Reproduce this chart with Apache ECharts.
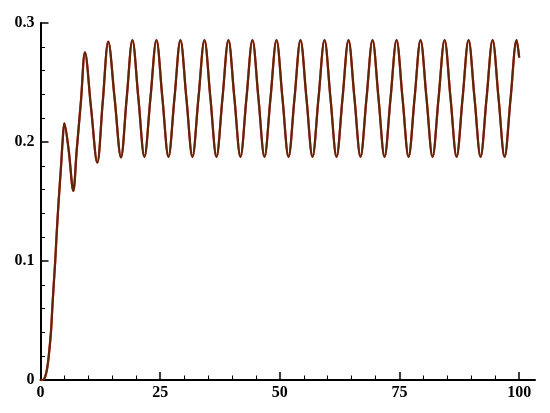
<!DOCTYPE html>
<html>
<head>
<meta charset="utf-8">
<script src="https://cdn.jsdelivr.net/npm/echarts@6/dist/echarts.min.js"></script>
<style>
html, body { margin: 0; padding: 0; background: #fff; }
#main { width: 550px; height: 413px; }
</style>
</head>
<body>
<div id="main"></div>
<script>
// values
var xMajorTicks = [0, 25, 50, 75, 100];
var xMinorTicks = [5, 10, 15, 20, 30, 35, 40, 45, 55, 60, 65, 70, 80, 85, 90, 95];

// start-up transient
var riseX = [0, 0.6, 1.0, 1.4, 1.71, 2.19, 2.46, 2.76, 3.09, 3.38, 3.80, 4.28, 4.64, 4.97, 5.89, 6.85, 7.56, 8.46, 9.29, 10.55, 11.86, 13.0, 14.16, 15.5, 16.81, 18.0];
var riseY = [0, 0.0003, 0.003, 0.01, 0.0196, 0.0406, 0.060, 0.080, 0.101, 0.123, 0.151, 0.179, 0.2017, 0.2157, 0.193, 0.159, 0.193, 0.235, 0.2754, 0.229, 0.1826, 0.2335, 0.2843, 0.236, 0.1871, 0.2365];

// steady oscillation: peaks, falling crossings, troughs, rising crossings
var peakX = [19.20, 24.22, 29.23, 34.25, 39.26, 44.28, 49.30, 54.31, 59.33, 64.34, 69.36, 74.38, 79.39, 84.41, 89.42, 94.44, 99.46];
var fallX = [20.45, 25.47, 30.48, 35.50, 40.51, 45.53, 50.55, 55.56, 60.58, 65.59, 70.61, 75.63, 80.64, 85.66, 90.67, 95.69];
var troughX = [21.71, 26.73, 31.74, 36.76, 41.77, 46.79, 51.81, 56.82, 61.84, 66.85, 71.87, 76.89, 81.90, 86.92, 91.93, 96.95];
var riseMidX = [22.96, 27.98, 32.99, 38.01, 43.02, 48.04, 53.06, 58.07, 63.09, 68.10, 73.12, 78.14, 83.15, 88.17, 93.18, 98.20];
var peakY = 0.2857;
var midY = 0.2366;
var troughY = 0.1875;
var endPoint = [100, 0.271];

var data = [];
for (var i = 0; i < riseX.length; i++) {
    data.push([riseX[i], riseY[i]]);
}
for (var i = 0; i < peakX.length; i++) {
    data.push([peakX[i], peakY]);
    if (i < fallX.length) {
        data.push([fallX[i], midY]);
        data.push([troughX[i], troughY]);
        data.push([riseMidX[i], midY]);
    }
}
data.push(endPoint);

var labelFont = {
    color: '#000',
    fontFamily: 'Liberation Serif',
    fontWeight: 'bold',
    fontSize: 16
};

var chart = echarts.init(document.getElementById('main'), null, {renderer: 'canvas'});
var option = {
    animation: false,
    grid: {left: 40.5, right: 15, top: 23, bottom: 33, containLabel: false},
    xAxis: [{
        type: 'value',
        min: 0,
        max: 103.3,
        interval: 25,
        splitLine: {show: false},
        axisLine: {show: true, onZero: false, lineStyle: {color: '#000', width: 2}},
        axisTick: {show: true, inside: true, length: 8, customValues: xMajorTicks, lineStyle: {color: '#000', width: 1.5}},
        axisLabel: Object.assign({margin: 5, customValues: xMajorTicks}, labelFont)
    }, {
        type: 'value',
        min: 0,
        max: 103.3,
        position: 'bottom',
        splitLine: {show: false},
        axisLine: {show: false},
        axisTick: {show: true, inside: true, length: 4.5, customValues: xMinorTicks, lineStyle: {color: '#000', width: 1}},
        axisLabel: {show: false}
    }],
    yAxis: {
        type: 'value',
        min: 0,
        max: 0.3,
        interval: 0.1,
        splitLine: {show: false},
        axisLine: {show: true, lineStyle: {color: '#000', width: 2}},
        axisTick: {show: true, inside: true, length: 8, lineStyle: {color: '#000', width: 1.5}},
        minorTick: {show: true, splitNumber: 5, length: 4.5, lineStyle: {color: '#000', width: 1}},
        axisLabel: Object.assign({margin: 6}, labelFont)
    },
    series: [{
        name: 'red',
        type: 'line',
        data: data,
        smooth: 0.35,
        showSymbol: false,
        lineStyle: {color: '#d81010', width: 2.2}
    }, {
        name: 'dark',
        type: 'line',
        data: data,
        smooth: 0.35,
        showSymbol: false,
        lineStyle: {color: '#4a2a08', width: 2.2, opacity: 0.85}
    }]
};
chart.setOption(option);
</script>
</body>
</html>
